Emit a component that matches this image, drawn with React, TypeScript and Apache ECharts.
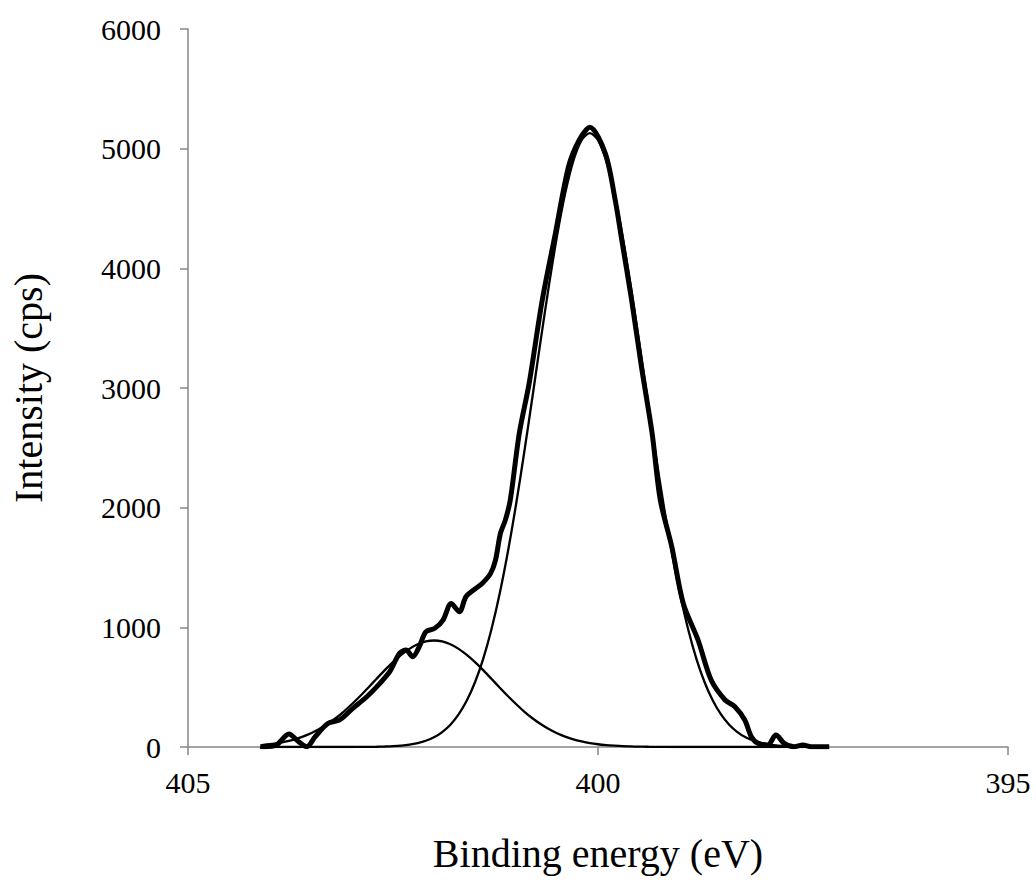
import React, { useEffect, useRef } from "react";
import * as echarts from "echarts";

// Binding energy grid (eV) for the fitted components
const energyGrid = [
  404.1, 404.0, 403.9, 403.8, 403.7, 403.6, 403.5, 403.4, 403.3, 403.2, 403.1, 403.0,
  402.9, 402.8, 402.7, 402.6, 402.5, 402.4, 402.3, 402.2, 402.1, 402.0, 401.9, 401.8,
  401.7, 401.6, 401.5, 401.4, 401.3, 401.2, 401.1, 401.0, 400.9, 400.8, 400.7, 400.6,
  400.5, 400.4, 400.3, 400.2, 400.1, 400.0, 399.9, 399.8, 399.7, 399.6, 399.5, 399.4,
  399.3, 399.2, 399.1, 399.0, 398.9, 398.8, 398.7, 398.6, 398.5, 398.4, 398.3, 398.2,
  398.1, 398.0, 397.9, 397.8, 397.7, 397.6, 397.5, 397.4, 397.3, 397.2,
];

// Main component (~400.1 eV)
const mainPeak = [
  0, 0, 0, 0, 0, 0, 0, 0, 0, 0, 0, 0,
  1, 1, 2, 4, 7, 12, 20, 33, 52, 81, 125, 186,
  272, 388, 541, 737, 982, 1279, 1628, 2024, 2461, 2923, 3394, 3850,
  4269, 4627, 4900, 5072, 5130, 5072, 4900, 4627, 4269, 3850, 3394, 2923,
  2461, 2024, 1628, 1279, 982, 737, 541, 388, 272, 186, 125, 81,
  52, 33, 20, 12, 7, 4, 2, 1, 0, 0,
];

// Minor component (~402.0 eV)
const minorPeak = [
  16, 23, 33, 47, 64, 87, 115, 150, 192, 240, 296, 359,
  426, 497, 570, 642, 709, 769, 820, 858, 882, 890, 882, 858,
  820, 769, 709, 642, 570, 497, 426, 359, 296, 240, 192, 150,
  115, 87, 64, 47, 33, 23, 16, 11, 7, 5, 3, 2,
  1, 1, 0, 0, 0, 0, 0, 0, 0, 0, 0, 0,
  0, 0, 0, 0, 0, 0, 0, 0, 0, 0,
];

// Measured spectrum
const measuredEnergy = [
  404.12, 404.08, 403.92, 403.77, 403.65, 403.55, 403.45, 403.29, 403.15, 402.99,
  402.82, 402.66, 402.54, 402.42, 402.34, 402.26, 402.18, 402.1, 401.99, 401.89,
  401.79, 401.69, 401.61, 401.49, 401.41, 401.31, 401.25, 401.19, 401.13, 401.07,
  400.96, 400.84, 400.68, 400.52, 400.36, 400.23, 400.1, 399.91, 399.79, 399.71,
  399.59, 399.47, 399.34, 399.24, 399.1, 398.96, 398.78, 398.62, 398.45, 398.33,
  398.21, 398.13, 398.05, 397.93, 397.83, 397.73, 397.61, 397.5, 397.4, 397.18,
];
const measuredIntensity = [
  5, 3, 17, 109, 44, 3, 86, 198, 226, 323,
  420, 532, 629, 783, 810, 754, 838, 963, 992, 1061,
  1200, 1130, 1256, 1326, 1368, 1451, 1562, 1785, 1896, 2063,
  2621, 3038, 3734, 4291, 4848, 5071, 5180, 4959, 4570, 4236,
  3734, 3177, 2621, 2063, 1673, 1200, 894, 560, 393, 337,
  226, 86, 31, 17, 100, 31, 3, 17, 3, 3,
];

const xTicks = [395, 400, 405];
const yTicks = [0, 1000, 2000, 3000, 4000, 5000, 6000];

const FONT = "'Times New Roman', 'Liberation Serif', serif";

export default function App() {
  const ref = useRef<HTMLDivElement>(null);
  useEffect(() => {
    if (!ref.current) return;
    const chart = echarts.init(ref.current, undefined, { renderer: "svg" });
    const pair = (xs: number[], ys: number[]) => xs.map((x, i) => [x, ys[i]]);
    chart.setOption({
      animation: false,
      backgroundColor: "#ffffff",
      grid: { left: 184, right: 28, top: 29, bottom: 147 },
      xAxis: {
        type: "value",
        inverse: true,
        min: xTicks[0],
        max: xTicks[xTicks.length - 1],
        interval: 5,
        name: "Binding energy (eV)",
        nameLocation: "middle",
        nameGap: 86,
        nameTextStyle: { fontFamily: FONT, fontSize: 40, color: "#000" },
        axisLine: { lineStyle: { color: "#868686", width: 1.5 } },
        axisTick: { show: true, length: 8, lineStyle: { color: "#868686", width: 1.5 } },
        axisLabel: {
          fontFamily: FONT,
          fontSize: 30,
          color: "#000",
          margin: 20,
          formatter: (v: number) => String(v),
        },
        splitLine: { show: false },
      },
      yAxis: {
        type: "value",
        min: yTicks[0],
        max: yTicks[yTicks.length - 1],
        interval: 1000,
        name: "Intensity (cps)",
        nameLocation: "middle",
        nameGap: 140,
        nameRotate: 90,
        nameTextStyle: { fontFamily: FONT, fontSize: 40, color: "#000" },
        axisLine: { show: true, lineStyle: { color: "#868686", width: 1.5 } },
        axisTick: { show: true, length: 8, lineStyle: { color: "#868686", width: 1.5 } },
        axisLabel: {
          fontFamily: FONT,
          fontSize: 30,
          color: "#000",
          margin: 27,
          formatter: (v: number) => String(v),
        },
        splitLine: { show: false },
      },
      series: [
        {
          name: "Minor component",
          type: "line",
          smooth: 0.3,
          showSymbol: false,
          data: pair(energyGrid, minorPeak),
          lineStyle: { color: "#000", width: 2.3 },
        },
        {
          name: "Main component",
          type: "line",
          smooth: 0.3,
          showSymbol: false,
          data: pair(energyGrid, mainPeak),
          lineStyle: { color: "#000", width: 2.3 },
        },
        {
          name: "Measured",
          type: "line",
          smooth: 0.3,
          showSymbol: false,
          data: pair(measuredEnergy, measuredIntensity),
          lineStyle: { color: "#000", width: 5 },
        },
      ],
    });
    return () => chart.dispose();
  }, []);
  return (
    <div
      ref={ref}
      style={{ position: "fixed", left: 0, top: 0, width: 1036, height: 894, background: "#fff" }}
    />
  );
}
